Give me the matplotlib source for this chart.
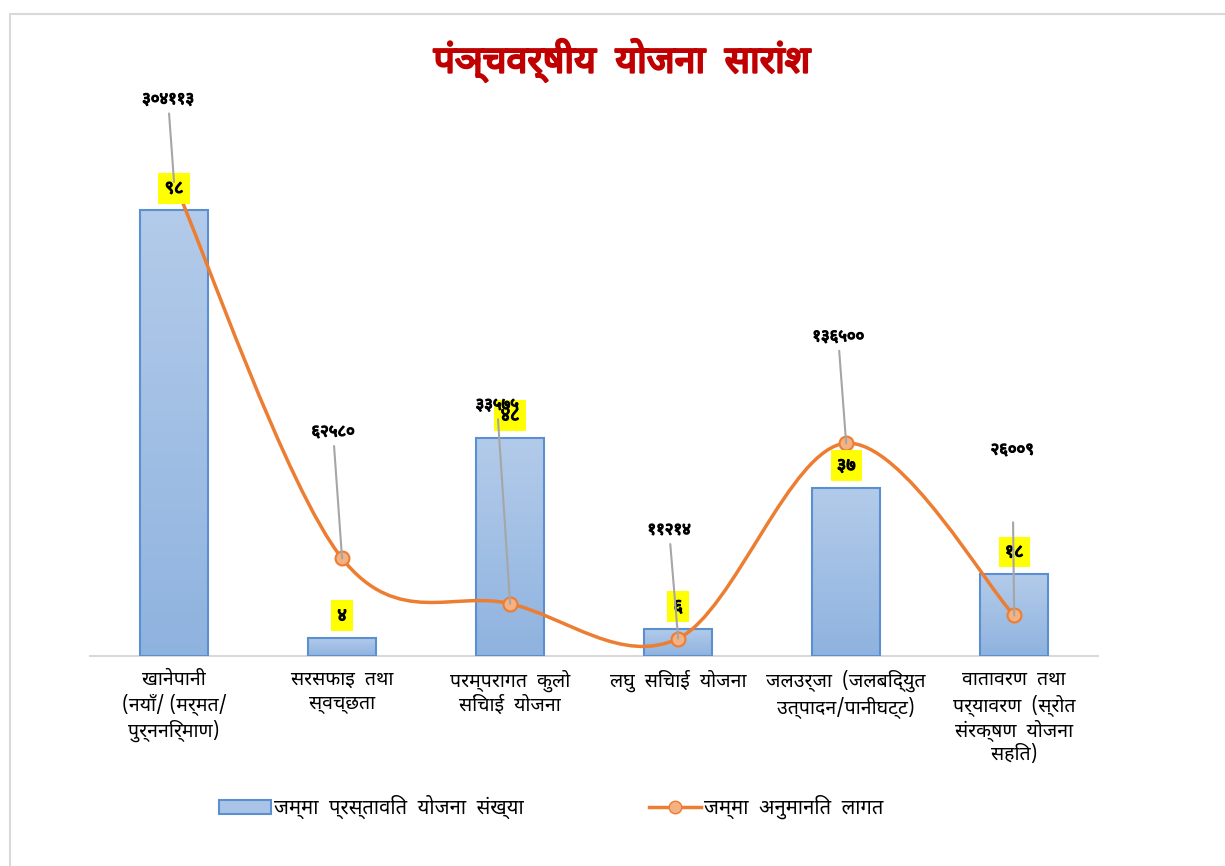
import matplotlib
matplotlib.use("Agg")
import matplotlib.pyplot as plt
import matplotlib.patheffects as pe
import numpy as np
from matplotlib.colors import LinearSegmentedColormap
from matplotlib.lines import Line2D
from matplotlib.patches import Patch, PathPatch, Rectangle
from matplotlib.path import Path

plt.rcParams['font.family'] = ['Noto Sans Devanagari', 'Hind', 'FreeSans', 'DejaVu Sans']

title = "पंञ्चवर्षीय  योजना  सारांश"
categories = [
    "खानेपानी\n(नयाँ/ (मर्मत/\nपुर्ननिर्माण)",
    "सरसफाइ  तथा\nस्वच्छता",
    "परम्परागत  कुलो\nसिंचाई  योजना",
    "लघु  सिंचाई  योजना",
    "जलउर्जा  (जलबिद्युत\nउत्पादन/पानीघट्ट)",
    "वातावरण  तथा\nपर्यावरण  (स्रोत\nसंरक्षण  योजना\nसहित)",
]
project_counts = [98, 4, 48, 6, 37, 18]
estimated_costs = [304113, 62580, 33575, 11214, 136500, 26009]
bar_series_name = "जम्मा  प्रस्तावित  योजना  संख्या"
line_series_name = "जम्मा  अनुमानित  लागत"

# where each cost label sits relative to its marker (pixels) and how far the leader stays off it
cost_label_offsets = [(-6, 82), (-9, 126), (-13, 198), (-9, 108), (-8, 106), (-2, 165)]
leader_gaps = [2, 2, 2, 2, 2, 44]

DEV_DIGITS = str.maketrans("0123456789", "०१२३४५६७८९")


def dev(n):
    return str(n).translate(DEV_DIGITS)


ORANGE = "#ed7d31"
BAR_EDGE = "#5b8fcf"
GRID = "#d9d9d9"


def heavy(color, w=0.9):
    # thicken glyphs a little, the bundled devanagari face has no heavy weight
    return [pe.withStroke(linewidth=w, foreground=color)]


fig = plt.figure(figsize=(12.25, 8.66), dpi=100)
ax = fig.add_axes([0.0735, 0.2425, 0.823, 0.630])
x = np.arange(len(categories))

# bars with a soft vertical gradient
bars = ax.bar(x, project_counts, width=0.405, color="none", edgecolor=BAR_EDGE,
              linewidth=1.5, zorder=3)
grad = LinearSegmentedColormap.from_list("bargrad", ["#8fb3df", "#b3cbea"])
for b in bars:
    x0, w, h = b.get_x(), b.get_width(), b.get_height()
    im = ax.imshow(np.linspace(0, 1, 64).reshape(-1, 1), cmap=grad, origin="lower",
                   extent=[x0, x0 + w, 0, h], aspect="auto", zorder=2)
    im.set_clip_path(b)

ax.set_xlim(-0.5, len(categories) - 0.5)
ax.set_ylim(0, 120)
ax.set_yticks([])
for s in ("left", "right", "top"):
    ax.spines[s].set_visible(False)
ax.spines["bottom"].set_color(GRID)
ax.spines["bottom"].set_linewidth(1.5)
ax.set_xticks(x, categories, fontsize=14, linespacing=1.22)
ax.tick_params(axis="x", length=0, pad=10)

# cost line on a secondary scale, smoothed with cubic bezier segments
ax2 = ax.twinx()
ax2.set_ylim(0, 350000)
ax2.set_yticks([])
for s in ax2.spines.values():
    s.set_visible(False)

pts = np.column_stack([x, estimated_costs]).astype(float)
ext = np.vstack([pts[0], pts, pts[-1]])
verts = [tuple(pts[0])]
codes = [Path.MOVETO]
for i in range(len(pts) - 1):
    p0, p1, p2, p3 = ext[i], ext[i + 1], ext[i + 2], ext[i + 3]
    verts += [tuple(p1 + (p2 - p0) / 6), tuple(p2 - (p3 - p1) / 6), tuple(p2)]
    codes += [Path.CURVE4] * 3
ax2.add_patch(PathPatch(Path(verts, codes), fill=False, ec=ORANGE, lw=2.5, zorder=4))
ax2.plot(x, estimated_costs, "o", ms=10, mfc="#f4b183", mec=ORANGE, mew=1.5, zorder=5)

# count labels on yellow boxes
for i, n in enumerate(project_counts):
    ax2.annotate(dev(n), xy=(i, n), xycoords=ax.transData, xytext=(0, 22),
                 textcoords="offset pixels", ha="center", va="center",
                 fontsize=13, zorder=6, path_effects=heavy("black"),
                 bbox=dict(boxstyle="square,pad=0.35", fc="#ffff00", ec="none"))

# cost labels with grey leader lines
for i, c in enumerate(estimated_costs):
    ax2.annotate(dev(c), xy=(i, c), xytext=cost_label_offsets[i],
                 textcoords="offset pixels", ha="center", va="center",
                 fontsize=12, zorder=7, path_effects=heavy("black"),
                 arrowprops=dict(arrowstyle="-", color="#a6a6a6", lw=1.5,
                                 shrinkA=leader_gaps[i], shrinkB=0))

fig.text(0.508, 0.93, title, ha="center", va="center", color="#c00000",
         fontsize=27, fontweight="bold", path_effects=heavy("#c00000", 1.6))

handles = [
    Patch(fc="#a9c4e6", ec=BAR_EDGE, lw=1.5),
    Line2D([], [], color=ORANGE, lw=2.5, marker="o", ms=9, mfc="#f4b183", mec=ORANGE),
]
fig.legend(handles, [bar_series_name, line_series_name], loc="center",
           bbox_to_anchor=(0.450, 0.068), ncol=2, frameon=False, fontsize=14.5,
           columnspacing=6.2, handlelength=2.6, handletextpad=0.15)

fig.patches.append(Rectangle((10 / 1225, -0.01), 1.05, 1.01 - 14 / 866,
                             transform=fig.transFigure, fill=False, ec=GRID, lw=1.5))

fig.savefig("out.png", dpi=100)
